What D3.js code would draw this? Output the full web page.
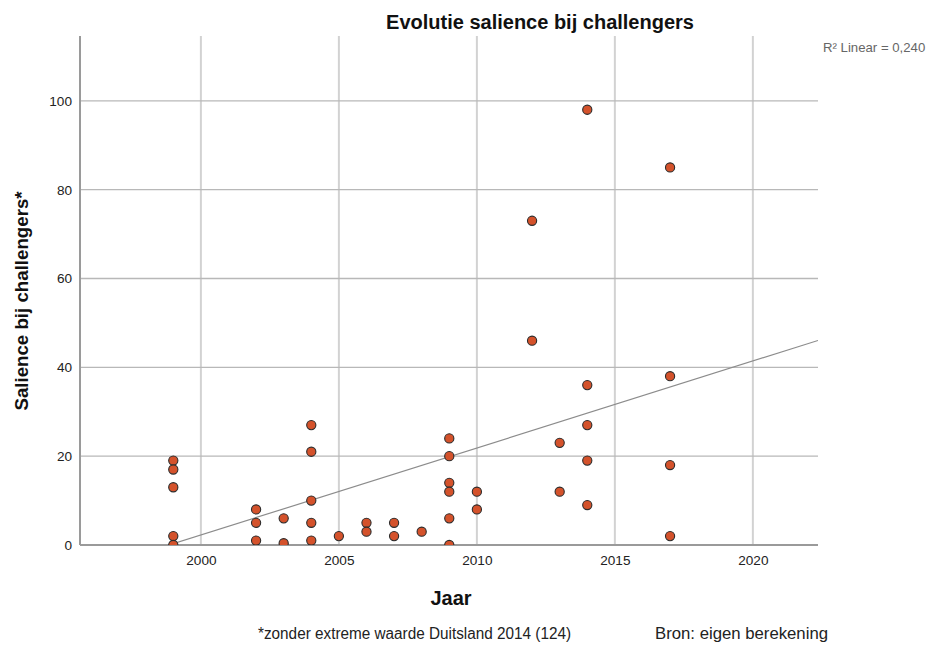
<!DOCTYPE html>
<html>
<head>
<meta charset="utf-8">
<script src="https://cdn.jsdelivr.net/npm/d3@7"></script>
<style>
  html, body { margin: 0; padding: 0; background: #fff; }
  svg { display: block; font-family: "Liberation Sans", Arial, sans-serif; }
</style>
</head>
<body>
<svg id="chart" width="932" height="646"></svg>
<script>
// Salience of the issue among challenger parties, one point per election
const years = [
  1999, 1999, 1999, 1999, 1999,
  2002, 2002, 2002,
  2003, 2003,
  2004, 2004, 2004, 2004, 2004,
  2005,
  2006, 2006,
  2007, 2007,
  2008,
  2009, 2009, 2009, 2009, 2009, 2009,
  2010, 2010,
  2012, 2012,
  2013, 2013,
  2014, 2014, 2014, 2014, 2014,
  2017, 2017, 2017, 2017
];
const salience = [
  19, 17, 13, 2, 0,
  8, 5, 1,
  6, 0.4,
  27, 21, 10, 5, 1,
  2,
  5, 3,
  5, 2,
  3,
  24, 20, 14, 12, 6, 0,
  12, 8,
  73, 46,
  23, 12,
  98, 36, 27, 19, 9,
  85, 38, 18, 2
];
const xTicks = [2000, 2005, 2010, 2015, 2020];
const yTicks = [0, 20, 40, 60, 80, 100];

const title = "Evolutie salience bij challengers";
const xTitle = "Jaar";
const yTitle = "Salience bij challengers*";
const note = "*zonder extreme waarde Duitsland 2014 (124)";
const source = "Bron: eigen berekening";

const svg = d3.select("#chart");
const plot = { left: 80, right: 818, top: 36, bottom: 545 };

const x = d3.scaleLinear().domain([1995.62, 2022.36]).range([plot.left, plot.right]);
const y = d3.scaleLinear().domain([0, 114.6]).range([plot.bottom, plot.top]);

const points = years.map((yr, i) => ({ year: yr, value: salience[i] }));

// Ordinary least squares fit
const mx = d3.mean(points, d => d.year);
const my = d3.mean(points, d => d.value);
const sxx = d3.sum(points, d => (d.year - mx) ** 2);
const sxy = d3.sum(points, d => (d.year - mx) * (d.value - my));
const syy = d3.sum(points, d => (d.value - my) ** 2);
const slope = sxy / sxx;
const intercept = my - slope * mx;
const r2 = (sxy * sxy) / (sxx * syy);

svg.append("defs").append("clipPath").attr("id", "plotClip")
  .append("rect")
  .attr("x", plot.left).attr("y", plot.top)
  .attr("width", plot.right - plot.left)
  .attr("height", plot.bottom - plot.top);

// Gridlines
svg.append("g").selectAll("line").data(xTicks).join("line")
  .attr("x1", d => x(d)).attr("x2", d => x(d))
  .attr("y1", plot.top).attr("y2", plot.bottom)
  .attr("stroke", "#d2d2d2").attr("stroke-width", 2);

svg.append("g").selectAll("line").data(yTicks.filter(d => d > 0)).join("line")
  .attr("x1", plot.left).attr("x2", plot.right)
  .attr("y1", d => y(d)).attr("y2", d => y(d))
  .attr("stroke", "#b8b8b8").attr("stroke-width", 1.3);

// Tick labels
const yAxis = svg.append("g")
  .attr("transform", `translate(${plot.left},0)`)
  .call(d3.axisLeft(y).tickValues(yTicks).tickSize(0).tickPadding(8));
const xAxis = svg.append("g")
  .attr("transform", `translate(0,${plot.bottom})`)
  .call(d3.axisBottom(x).tickValues(xTicks).tickFormat(d3.format("d")).tickSize(0).tickPadding(10));
[yAxis, xAxis].forEach(g => {
  g.select(".domain").remove();
  g.selectAll("text").attr("font-size", 13.6).attr("fill", "#222")
    .attr("font-family", "'Liberation Sans', Arial, sans-serif");
});

// Axis lines
svg.append("line")
  .attr("x1", plot.left).attr("x2", plot.left)
  .attr("y1", plot.top).attr("y2", plot.bottom)
  .attr("stroke", "#9a9a9a").attr("stroke-width", 2);
svg.append("line")
  .attr("x1", plot.left).attr("x2", plot.right)
  .attr("y1", plot.bottom).attr("y2", plot.bottom)
  .attr("stroke", "#9a9a9a").attr("stroke-width", 2);

// Fit line
const [x0, x1] = x.domain();
svg.append("line")
  .attr("clip-path", "url(#plotClip)")
  .attr("x1", x(x0)).attr("y1", y(intercept + slope * x0))
  .attr("x2", x(x1)).attr("y2", y(intercept + slope * x1))
  .attr("stroke", "#8c8c8c").attr("stroke-width", 1.2);

// Points
svg.append("g").attr("clip-path", "url(#plotClip)")
  .selectAll("circle").data(points).join("circle")
  .attr("cx", d => x(d.year)).attr("cy", d => y(d.value))
  .attr("r", 4.6)
  .attr("fill", "#d4522b")
  .attr("stroke", "#2b2b2b").attr("stroke-width", 1.1);

// Titles and notes
svg.append("text")
  .attr("x", 540).attr("y", 29)
  .attr("text-anchor", "middle")
  .attr("font-size", 20).attr("font-weight", "bold").attr("fill", "#111")
  .text(title);

svg.append("text")
  .attr("x", 823).attr("y", 52)
  .attr("font-size", 13.2).attr("fill", "#666")
  .text("R\u00B2 Linear = " + d3.format(".3f")(r2).replace(".", ","));

svg.append("text")
  .attr("x", 451).attr("y", 605)
  .attr("text-anchor", "middle")
  .attr("font-size", 20).attr("font-weight", "bold").attr("fill", "#111")
  .text(xTitle);

svg.append("text")
  .attr("transform", `translate(28,${301}) rotate(-90)`)
  .attr("text-anchor", "middle")
  .attr("font-size", 18.7).attr("font-weight", "bold").attr("fill", "#111")
  .text(yTitle);

svg.append("text")
  .attr("x", 258).attr("y", 639)
  .attr("font-size", 16).attr("fill", "#222")
  .attr("textLength", 313).attr("lengthAdjust", "spacingAndGlyphs")
  .text(note);

svg.append("text")
  .attr("x", 655).attr("y", 639)
  .attr("font-size", 16).attr("fill", "#222")
  .attr("textLength", 173).attr("lengthAdjust", "spacingAndGlyphs")
  .text(source);
</script>
</body>
</html>
